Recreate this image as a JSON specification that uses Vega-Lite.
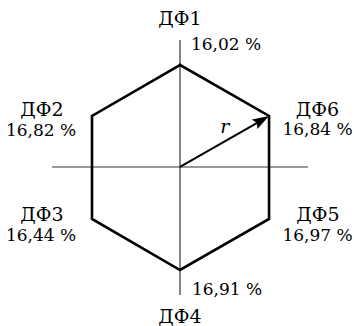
{
  "$schema": "https://vega.github.io/schema/vega-lite/v6.json",
  "width": 354,
  "height": 326,
  "padding": 0,
  "autosize": {"type": "none"},
  "background": "white",
  "config": {"view": {"stroke": null}, "text": {"font": "DejaVu Serif"}},
  "datasets": {
    "axes": [
      {"x": -1.255, "y": 0, "x2": 1.255, "y2": 0},
      {"x": 0, "y": 1.245, "x2": 0, "y2": -1.255}
    ],
    "hex": [
      {"i": 0, "x": 0, "y": 1},
      {"i": 1, "x": 0.873, "y": 0.5},
      {"i": 2, "x": 0.873, "y": -0.51},
      {"i": 3, "x": 0, "y": -1.01},
      {"i": 4, "x": -0.863, "y": -0.51},
      {"i": 5, "x": -0.863, "y": 0.5},
      {"i": 6, "x": 0, "y": 1}
    ],
    "arrow": [
      {"x": 0, "y": 0, "x2": 0.8, "y2": 0.458}
    ],
    "head": [
      {"x": 0.873, "y": 0.5}
    ],
    "labels": [
      {"x": 0, "y": 1.392, "t": "ДФ1", "k": "name"},
      {"x": 0.451, "y": 1.147, "t": "16,02 %", "k": "val"},
      {"x": -1.353, "y": 0.5, "t": "ДФ2", "k": "name"},
      {"x": -1.363, "y": 0.304, "t": "16,82 %", "k": "val"},
      {"x": 1.348, "y": 0.5, "t": "ДФ6", "k": "name"},
      {"x": 1.348, "y": 0.314, "t": "16,84 %", "k": "val"},
      {"x": -1.353, "y": -0.529, "t": "ДФ3", "k": "name"},
      {"x": -1.363, "y": -0.725, "t": "16,44 %", "k": "val"},
      {"x": 1.353, "y": -0.529, "t": "ДФ5", "k": "name"},
      {"x": 1.348, "y": -0.725, "t": "16,97 %", "k": "val"},
      {"x": 0.461, "y": -1.255, "t": "16,91 %", "k": "val"},
      {"x": 0, "y": -1.529, "t": "ДФ4", "k": "name"}
    ],
    "rlabel": [
      {"x": 0.44, "y": 0.333, "t": "r"}
    ]
  },
  "layer": [
    {
      "data": {"name": "axes"},
      "mark": {"type": "rule", "stroke": "#333", "strokeWidth": 1.2},
      "encoding": {
        "x": {"field": "x", "type": "quantitative", "scale": {"domain": [-1.765, 1.706], "nice": false, "zero": false}, "axis": null},
        "y": {"field": "y", "type": "quantitative", "scale": {"domain": [-1.559, 1.637], "nice": false, "zero": false}, "axis": null},
        "x2": {"field": "x2"},
        "y2": {"field": "y2"}
      }
    },
    {
      "data": {"name": "hex"},
      "mark": {"type": "line", "stroke": "black", "strokeWidth": 2.6, "strokeJoin": "miter", "strokeCap": "square"},
      "encoding": {
        "x": {"field": "x", "type": "quantitative"},
        "y": {"field": "y", "type": "quantitative"},
        "order": {"field": "i", "type": "quantitative"}
      }
    },
    {
      "data": {"name": "arrow"},
      "mark": {"type": "rule", "stroke": "black", "strokeWidth": 2},
      "encoding": {
        "x": {"field": "x", "type": "quantitative"},
        "y": {"field": "y", "type": "quantitative"},
        "x2": {"field": "x2"},
        "y2": {"field": "y2"}
      }
    },
    {
      "data": {"name": "head"},
      "mark": {"type": "point", "shape": "M0,0 L-0.33,1 L0,0.85 L0.33,1 Z", "filled": true, "fill": "black", "stroke": null, "opacity": 1, "size": 1100, "angle": 60},
      "encoding": {
        "x": {"field": "x", "type": "quantitative"},
        "y": {"field": "y", "type": "quantitative"}
      }
    },
    {
      "data": {"name": "labels"},
      "transform": [{"filter": "datum.k === 'name'"}],
      "mark": {"type": "text", "font": "DejaVu Serif", "fontSize": 19, "align": "center", "baseline": "alphabetic", "fill": "black"},
      "encoding": {
        "x": {"field": "x", "type": "quantitative"},
        "y": {"field": "y", "type": "quantitative"},
        "text": {"field": "t"}
      }
    },
    {
      "data": {"name": "labels"},
      "transform": [{"filter": "datum.k === 'val'"}],
      "mark": {"type": "text", "font": "DejaVu Serif", "fontSize": 17, "align": "center", "baseline": "alphabetic", "fill": "black"},
      "encoding": {
        "x": {"field": "x", "type": "quantitative"},
        "y": {"field": "y", "type": "quantitative"},
        "text": {"field": "t"}
      }
    },
    {
      "data": {"name": "rlabel"},
      "mark": {"type": "text", "font": "DejaVu Serif", "fontSize": 19, "fontStyle": "italic", "align": "center", "baseline": "alphabetic", "fill": "black"},
      "encoding": {
        "x": {"field": "x", "type": "quantitative"},
        "y": {"field": "y", "type": "quantitative"},
        "text": {"field": "t"}
      }
    }
  ]
}
